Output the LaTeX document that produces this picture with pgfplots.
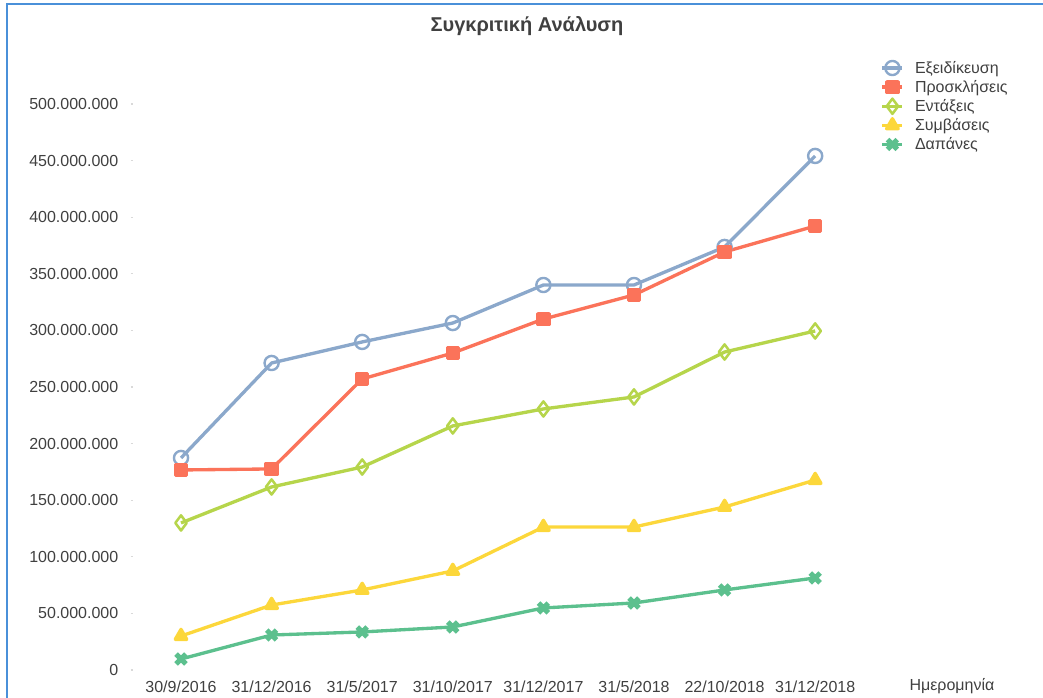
\documentclass[border=0pt]{standalone}
\usepackage{pgfplots}
\pgfplotsset{compat=1.18}
\usepackage{fontspec}
\setmainfont{Liberation Sans}
\definecolor{cBlue}{HTML}{8BA8CB}
\definecolor{cRed}{HTML}{FB735A}
\definecolor{cGreen}{HTML}{B6D54B}
\definecolor{cYellow}{HTML}{FCD73B}
\definecolor{cTeal}{HTML}{5CC08E}
\definecolor{cText}{HTML}{404040}
\definecolor{cFrame}{HTML}{4A90D9}
\begin{document}
\begin{tikzpicture}
\useasboundingbox (0,0) rectangle (782.25pt,523.5pt);
\draw[cFrame, line width=1.5pt] (5.25pt,0) -- (5.25pt,520.5pt) -- (782.25pt,520.5pt);
\begin{axis}[
  at={(99.75pt,21pt)}, anchor=south west,
  scale only axis, width=545.6pt, height=424.5pt,
  xmin=-0.53, xmax=7.5, ymin=0, ymax=500000000,
  axis line style={draw=none},
  xtick={0,...,7},
  xticklabels={30/9/2016,31/12/2016,31/5/2017,31/10/2017,31/12/2017,31/5/2018,22/10/2018,31/12/2018},
  ytick={0,50000000,...,500000000},
  ytick pos=left,
  xtick style={draw=none},
  ytick style={draw=black!15, line width=0.8pt},
  major tick length=1.5pt,
  tick align=outside,
  scaled y ticks=false,
  /pgf/number format/.cd, fixed, 1000 sep={.}, assume math mode=true, /pgfplots/.cd,
  tick label style={font=\fontsize{12}{14}\selectfont, text=cText},
  yticklabel style={xshift=-6pt},
  xticklabel style={yshift=-3pt},
  clip=false,
  legend style={at={(1.022,1.084)}, anchor=north west, draw=none, fill=none,
    font=\fontsize{12}{14}\selectfont, text=cText, row sep=1.4pt,
    nodes={inner sep=1.2pt}},
  legend cell align=left,
  legend image code/.code={\draw[mark repeat=2,mark phase=2] plot coordinates {(0pt,0pt)(7.5pt,0pt)(15pt,0pt)};\path (22pt,0pt);},
  every axis plot/.append style={line width=2.5pt, line join=round},
]
\addplot[cBlue, mark=o, mark size=5.3pt, mark options={line width=1.8pt, fill=white}] coordinates {
 (0,187300000) (1,271200000) (2,289800000) (3,306500000) (4,340100000) (5,340100000) (6,373700000) (7,454100000)};
\addlegendentry{Εξειδίκευση}
\addplot[cRed, mark=square*, mark size=4.1pt] coordinates {
 (0,176700000) (1,177600000) (2,257100000) (3,280000000) (4,310000000) (5,331300000) (6,369300000) (7,392200000)};
\addlegendentry{Προσκλήσεις}
\addplot[cGreen, mark=diamond, mark size=5.7pt, mark options={line width=1.9pt, fill=white}] coordinates {
 (0,129900000) (1,161700000) (2,179300000) (3,215600000) (4,230600000) (5,241200000) (6,280900000) (7,299500000)};
\addlegendentry{Εντάξεις}
\addplot[cYellow, mark=triangle*, mark size=5pt] coordinates {
 (0,30000000) (1,57400000) (2,70700000) (3,87500000) (4,126300000) (5,126300000) (6,144000000) (7,167800000)};
\addlegendentry{Συμβάσεις}
\addplot[cTeal, mark=x, mark size=5.2pt, mark options={line width=3.8pt}] coordinates {
 (0,9700000) (1,30900000) (2,33600000) (3,38000000) (4,54800000) (5,59200000) (6,70700000) (7,81300000)};
\addlegendentry{Δαπάνες}
\end{axis}
\node[font=\bfseries\fontsize{15}{18}\selectfont, text=cText] at (395.25pt,504pt) {Συγκριτική Ανάλυση};
\node[font=\fontsize{12}{14}\selectfont, text=cText] at (714pt,9pt) {Ημερομηνία};
\end{tikzpicture}
\end{document}
